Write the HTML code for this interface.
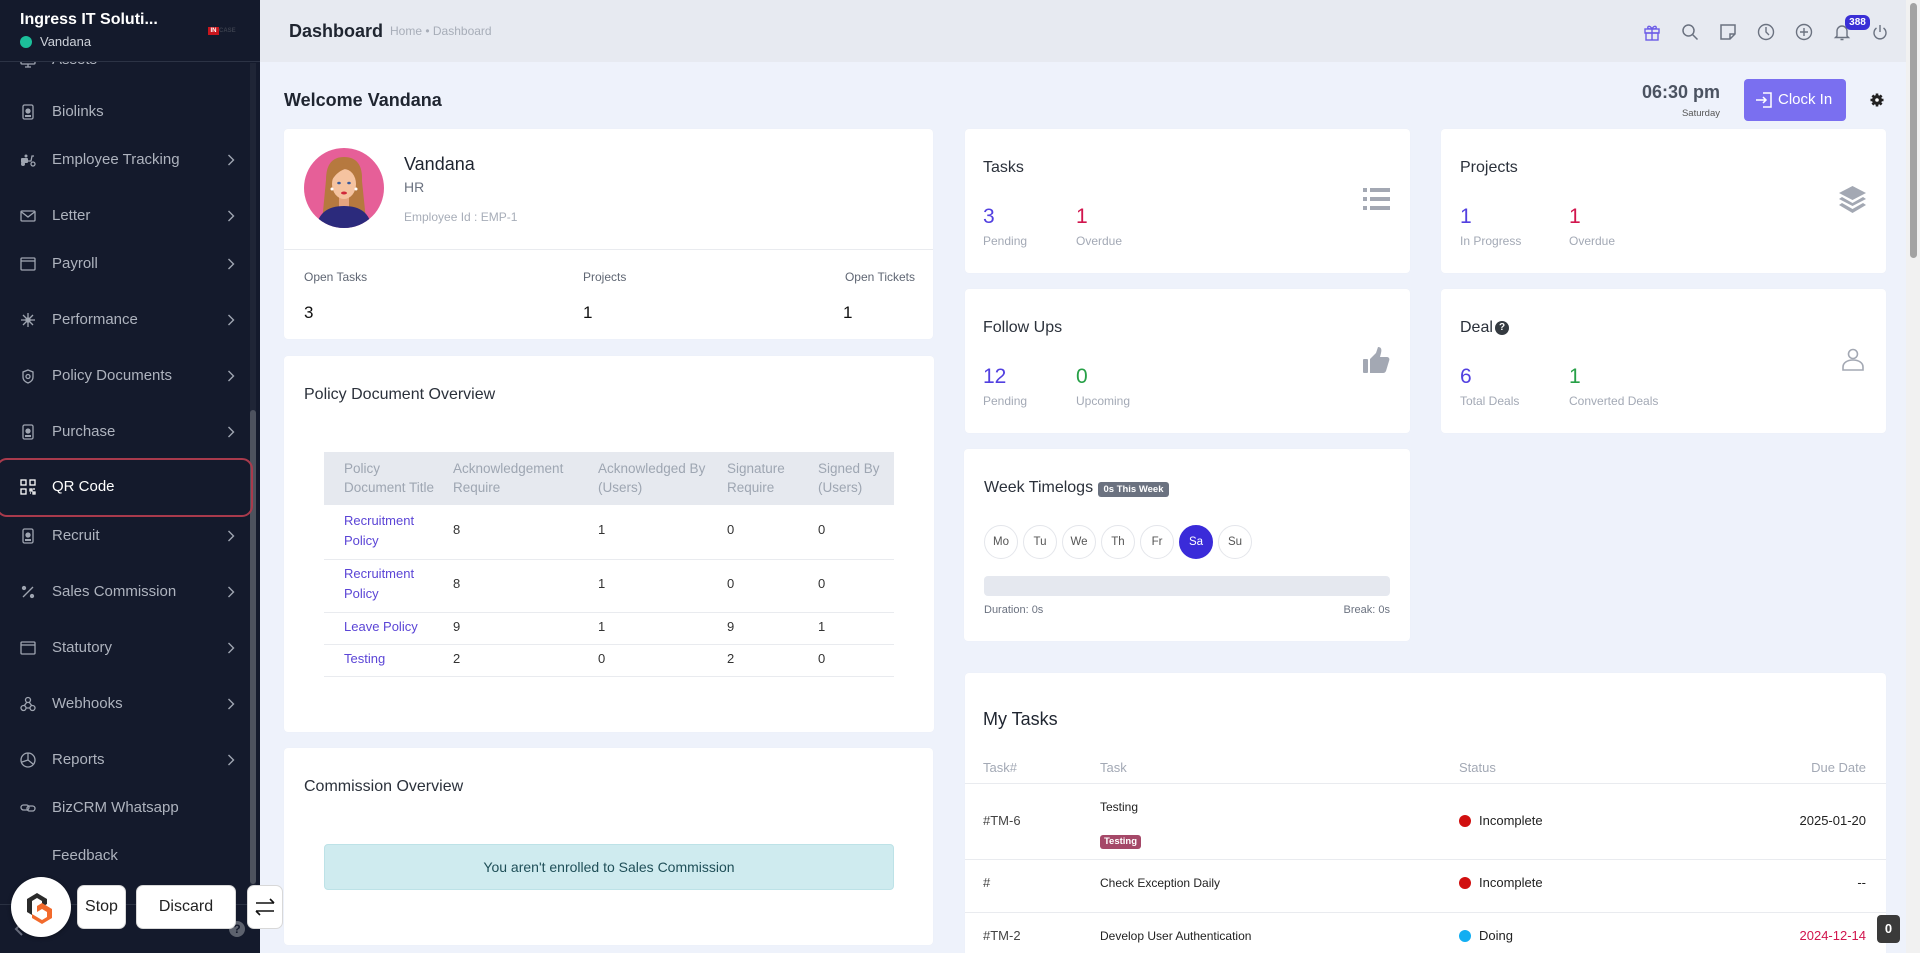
<!DOCTYPE html>
<html><head><meta charset="utf-8">
<style>
*{margin:0;padding:0;box-sizing:border-box}
html,body{width:1920px;height:953px;overflow:hidden}
body{position:relative;background:#eef2fb;font-family:"Liberation Sans",Arial,sans-serif;color:#28303b}
.a{position:absolute}
.t{position:absolute;white-space:nowrap;line-height:20px}
.card{position:absolute;background:#fff;border-radius:4px;box-shadow:0 0 1px rgba(0,0,0,.04)}
.si{position:absolute;left:52px;font-size:15px;color:#aeb3be;line-height:20px;white-space:nowrap}
.ic{position:absolute;left:20px;width:16px;height:16px}
.ch{position:absolute;left:227px;width:8px;height:12px}
.ti{font-size:16px;color:#2b313b}
.num{font-size:21px;line-height:24px}
.lb{font-size:12px;color:#a3a9b5}
.th{font-size:13.5px;color:#9ea6b2}
.td{font-size:13px;color:#333}
.lk{font-size:13px;color:#5b45d6}
.day{position:absolute;top:525px;width:34px;height:34px;border:1px solid #e4e6eb;border-radius:50%;font-size:11.5px;color:#555;text-align:center;line-height:32px}
.btn{position:absolute;top:885px;height:44px;background:#fff;border:1px solid #d8d8d8;border-radius:7px;font-size:16px;color:#222;text-align:center;line-height:42px}
.hl{position:absolute;height:1px;background:#e9ebef}
</style></head><body>

<!-- SIDEBAR -->
<div class="a" style="left:0;top:0;width:260px;height:953px;background:#141a2c"></div>
<!-- sidebar scrollbar -->
<div class="a" style="left:250px;top:63px;width:6px;height:841px;background:#1f2536"></div>
<div class="a" style="left:250px;top:410px;width:6px;height:474px;background:#4d525e;border-radius:3px"></div>

<!-- sidebar items -->
<svg class="ic" style="top:53px" viewBox="0 0 16 16" fill="none" stroke="#9fa5b1" stroke-width="1.3"><rect x="1" y="2" width="14" height="9" rx="1"/><path d="M5 14h6M8 11v3"/></svg>
<div class="si" style="top:50px">Assets</div>

<svg class="ic" style="top:104px" viewBox="0 0 16 16" fill="none" stroke="#9fa5b1" stroke-width="1.3"><rect x="3" y="1" width="10" height="14" rx="1.5"/><circle cx="8" cy="7" r="2" fill="#9fa5b1"/><path d="M5 12h6" stroke-width="2"/></svg>
<div class="si" style="top:102px">Biolinks</div>

<svg class="ic" style="top:152px" viewBox="0 0 16 16" fill="#9fa5b1"><rect x="1" y="6" width="7" height="5" rx="1"/><circle cx="3" cy="12" r="2"/><circle cx="13" cy="12" r="2" fill="none" stroke="#9fa5b1" stroke-width="1.3"/><path d="M8 9h3l1-5h2" fill="none" stroke="#9fa5b1" stroke-width="1.3"/><circle cx="6" cy="4" r="1.5"/></svg>
<div class="si" style="top:150px">Employee Tracking</div>
<svg class="ch" style="top:154px" viewBox="0 0 8 12" fill="none" stroke="#9fa5b1" stroke-width="1.4"><path d="M1.5 1l5 5-5 5"/></svg>

<svg class="ic" style="top:208px" viewBox="0 0 16 16" fill="none" stroke="#9fa5b1" stroke-width="1.3"><rect x="1" y="3" width="14" height="10" rx="1"/><path d="M1.5 4l6.5 5 6.5-5"/></svg>
<div class="si" style="top:206px">Letter</div>
<svg class="ch" style="top:210px" viewBox="0 0 8 12" fill="none" stroke="#9fa5b1" stroke-width="1.4"><path d="M1.5 1l5 5-5 5"/></svg>

<svg class="ic" style="top:256px" viewBox="0 0 16 16" fill="none" stroke="#9fa5b1" stroke-width="1.3"><rect x="1" y="2" width="14" height="12" rx="1"/><path d="M1 5h14"/></svg>
<div class="si" style="top:254px">Payroll</div>
<svg class="ch" style="top:258px" viewBox="0 0 8 12" fill="none" stroke="#9fa5b1" stroke-width="1.4"><path d="M1.5 1l5 5-5 5"/></svg>

<svg class="ic" style="top:312px" viewBox="0 0 16 16" fill="none" stroke="#9fa5b1" stroke-width="1.3"><path d="M8 1v14M1 8h14M3 3l10 10M13 3L3 13"/><circle cx="8" cy="8" r="2" fill="#9fa5b1"/></svg>
<div class="si" style="top:310px">Performance</div>
<svg class="ch" style="top:314px" viewBox="0 0 8 12" fill="none" stroke="#9fa5b1" stroke-width="1.4"><path d="M1.5 1l5 5-5 5"/></svg>

<svg class="ic" style="top:368px" viewBox="0 0 16 16" fill="none" stroke="#9fa5b1" stroke-width="1.3"><path d="M8 2l5 2v5c0 3-2.5 5-5 6-2.5-1-5-3-5-6V4z"/><circle cx="8" cy="8.5" r="2"/></svg>
<div class="si" style="top:366px">Policy Documents</div>
<svg class="ch" style="top:370px" viewBox="0 0 8 12" fill="none" stroke="#9fa5b1" stroke-width="1.4"><path d="M1.5 1l5 5-5 5"/></svg>

<svg class="ic" style="top:424px" viewBox="0 0 16 16" fill="none" stroke="#9fa5b1" stroke-width="1.3"><rect x="3" y="1" width="10" height="14" rx="1.5"/><circle cx="8" cy="7" r="2" fill="#9fa5b1"/><path d="M5 12h6" stroke-width="2"/></svg>
<div class="si" style="top:422px">Purchase</div>
<svg class="ch" style="top:426px" viewBox="0 0 8 12" fill="none" stroke="#9fa5b1" stroke-width="1.4"><path d="M1.5 1l5 5-5 5"/></svg>

<!-- QR highlighted -->
<div class="a" style="left:-4px;top:458px;width:257px;height:59px;border:2px solid #a93a4c;border-radius:11px"></div>
<svg class="ic" style="top:479px" viewBox="0 0 16 16" fill="none" stroke="#ffffff" stroke-width="1.3"><rect x="1" y="1" width="5" height="5"/><rect x="10" y="1" width="5" height="5"/><rect x="1" y="10" width="5" height="5"/><path d="M10 10h2v2h-2zM13 13h2v2h-2zM13 10h2M10 14h1" /></svg>
<div class="si" style="top:477px;color:#ffffff">QR Code</div>

<svg class="ic" style="top:528px" viewBox="0 0 16 16" fill="none" stroke="#9fa5b1" stroke-width="1.3"><rect x="3" y="1" width="10" height="14" rx="1.5"/><circle cx="8" cy="7" r="2" fill="#9fa5b1"/><path d="M5 12h6" stroke-width="2"/></svg>
<div class="si" style="top:526px">Recruit</div>
<svg class="ch" style="top:530px" viewBox="0 0 8 12" fill="none" stroke="#9fa5b1" stroke-width="1.4"><path d="M1.5 1l5 5-5 5"/></svg>

<svg class="ic" style="top:584px" viewBox="0 0 16 16" fill="none" stroke="#9fa5b1" stroke-width="1.3"><path d="M13 3L3 13"/><circle cx="4" cy="4" r="1.5" fill="#9fa5b1"/><circle cx="12" cy="12" r="1.5" fill="#9fa5b1"/></svg>
<div class="si" style="top:582px">Sales Commission</div>
<svg class="ch" style="top:586px" viewBox="0 0 8 12" fill="none" stroke="#9fa5b1" stroke-width="1.4"><path d="M1.5 1l5 5-5 5"/></svg>

<svg class="ic" style="top:640px" viewBox="0 0 16 16" fill="none" stroke="#9fa5b1" stroke-width="1.3"><rect x="1" y="2" width="14" height="12" rx="1"/><path d="M1 5h14"/></svg>
<div class="si" style="top:638px">Statutory</div>
<svg class="ch" style="top:642px" viewBox="0 0 8 12" fill="none" stroke="#9fa5b1" stroke-width="1.4"><path d="M1.5 1l5 5-5 5"/></svg>

<svg class="ic" style="top:696px" viewBox="0 0 16 16" fill="none" stroke="#9fa5b1" stroke-width="1.3"><circle cx="8" cy="4" r="2.5"/><circle cx="3.5" cy="12" r="2.5"/><circle cx="12.5" cy="12" r="2.5"/><path d="M7 6l-3 4M6 12h4M9 6l3 4"/></svg>
<div class="si" style="top:694px">Webhooks</div>
<svg class="ch" style="top:698px" viewBox="0 0 8 12" fill="none" stroke="#9fa5b1" stroke-width="1.4"><path d="M1.5 1l5 5-5 5"/></svg>

<svg class="ic" style="top:752px" viewBox="0 0 16 16" fill="none" stroke="#9fa5b1" stroke-width="1.3"><circle cx="8" cy="8" r="7"/><path d="M8 1v7l5 4M8 8l-6 2"/></svg>
<div class="si" style="top:750px">Reports</div>
<svg class="ch" style="top:754px" viewBox="0 0 8 12" fill="none" stroke="#9fa5b1" stroke-width="1.4"><path d="M1.5 1l5 5-5 5"/></svg>

<svg class="ic" style="top:800px" viewBox="0 0 16 16" fill="none" stroke="#9fa5b1" stroke-width="1.3"><rect x="1" y="5" width="8" height="5" rx="2.5"/><rect x="7" y="6" width="8" height="5" rx="2.5"/></svg>
<div class="si" style="top:798px">BizCRM Whatsapp</div>

<div class="si" style="top:846px">Feedback</div>

<!-- sidebar footer -->
<div class="a" style="left:0;top:904px;width:250px;height:1px;background:#2a3142"></div>
<svg class="a" style="left:14px;top:922px" width="10" height="14" viewBox="0 0 10 14" fill="none" stroke="#6b7080" stroke-width="2"><path d="M8 1L2 7l6 6"/></svg>
<div class="a" style="left:229px;top:921px;width:16px;height:16px;border-radius:50%;background:#5d626e;color:#141a2c;font-size:12px;font-weight:bold;text-align:center;line-height:16px">?</div>

<!-- sidebar header -->
<div class="a" style="left:0;top:0;width:260px;height:62px;background:#141a2c;border-bottom:1px solid #2c3345;z-index:2">
  <div class="t" style="left:20px;top:10px;font-size:16px;font-weight:bold;color:#fff">Ingress IT Soluti...</div>
  <div class="a" style="left:20px;top:36px;width:12px;height:12px;border-radius:50%;background:#1cbf9a"></div>
  <div class="t" style="left:40px;top:32px;font-size:13px;color:#cdd1d9">Vandana</div>
  <div class="a" style="left:208px;top:27px;width:11px;height:8px;background:#c8161d;color:#fff;font-size:6px;font-weight:bold;line-height:8px;text-align:center">IN</div>
  <div class="a" style="left:219px;top:27px;font-size:6px;color:#3a3f4c;line-height:8px;font-weight:bold">CASE</div>
</div>

<!-- floating widget -->
<div class="a" style="left:11px;top:877px;width:60px;height:60px;border-radius:50%;background:#fff;box-shadow:0 1px 4px rgba(0,0,0,.35)"></div>
<svg class="a" style="left:24px;top:890px" width="34" height="34" viewBox="0 0 34 34">
  <path d="M3 9L13 3l10 6v5l-5 3V11l-5-3-5 3v14l-5-3z" fill="#2b2b2b"/>
  <path d="M13 16l5-3 10 6v9l-10 6-10-6v-4l5 3 5 3 5-3v-5l-5-3-5 3z" fill="#f26a2c"/>
</svg>
<div class="btn" style="left:77px;width:49px">Stop</div>
<div class="btn" style="left:136px;width:100px">Discard</div>
<div class="btn" style="left:247px;width:36px">
  <svg style="margin-top:11px" width="22" height="20" viewBox="0 0 22 20" fill="none" stroke="#111" stroke-width="1.6"><path d="M2 6h18M16 2l4 4M20 14H2M6 18l-4-4"/></svg>
</div>

<!-- MAIN HEADER -->
<div class="a" style="left:260px;top:0;width:1646px;height:62px;background:#e7eaf1"></div>
<div class="t" style="left:289px;top:21px;font-size:18px;font-weight:bold;color:#1f2530">Dashboard</div>
<div class="t" style="left:390px;top:21px;font-size:12px;color:#a7adb8">Home • Dashboard</div>

<svg class="a" style="left:1643px;top:23px" width="18" height="18" viewBox="0 0 18 18" fill="none" stroke="#6c5ce7" stroke-width="1.4"><rect x="2" y="6" width="14" height="4"/><rect x="3" y="10" width="12" height="7"/><path d="M9 6v11M9 6C7 2 4 3 5 5.5 6 6 9 6 9 6M9 6c2-4 5-3 4-.5C12 6 9 6 9 6"/></svg>
<svg class="a" style="left:1681px;top:23px" width="18" height="18" viewBox="0 0 18 18" fill="none" stroke="#6b7280" stroke-width="1.5"><circle cx="7.5" cy="7.5" r="5.5"/><path d="M11.5 11.5l5 5"/></svg>
<svg class="a" style="left:1719px;top:23px" width="18" height="18" viewBox="0 0 18 18" fill="none" stroke="#6b7280" stroke-width="1.5"><path d="M2 2h14v9l-5 5H2z M16 11h-5v5"/></svg>
<svg class="a" style="left:1757px;top:23px" width="18" height="18" viewBox="0 0 18 18" fill="none" stroke="#6b7280" stroke-width="1.4"><circle cx="9" cy="9" r="7.5"/><path d="M9 4v5l3 3"/></svg>
<svg class="a" style="left:1795px;top:23px" width="18" height="18" viewBox="0 0 18 18" fill="none" stroke="#6b7280" stroke-width="1.4"><circle cx="9" cy="9" r="7.5"/><path d="M9 5v8M5 9h8"/></svg>
<svg class="a" style="left:1833px;top:23px" width="18" height="18" viewBox="0 0 18 18" fill="none" stroke="#6b7280" stroke-width="1.4"><path d="M4 13V8a5 5 0 0110 0v5l1.5 1.5h-13zM7.5 16.5h3"/></svg>
<div class="a" style="left:1845px;top:15px;width:25px;height:15px;border-radius:6px;background:#3a2fd6;color:#fff;font-size:10px;font-weight:bold;text-align:center;line-height:15px">388</div>
<svg class="a" style="left:1872px;top:24px" width="16" height="17" viewBox="0 0 16 17" fill="none" stroke="#6b7280" stroke-width="1.4"><path d="M8 1v7M4.5 4a6 6 0 107 0"/></svg>

<!-- page scrollbar -->
<div class="a" style="left:1906px;top:0;width:14px;height:953px;background:#f1f1f1"></div>
<div class="a" style="left:1910px;top:3px;width:7px;height:255px;background:#a3a3a3;border-radius:4px"></div>

<!-- welcome row -->
<div class="t" style="left:284px;top:90px;font-size:18px;font-weight:bold;color:#1f2530">Welcome Vandana</div>
<div class="t" style="left:1620px;top:82px;width:100px;text-align:right;font-size:18px;font-weight:bold;color:#4b5361">06:30 pm</div>
<div class="t" style="left:1620px;top:104px;width:100px;text-align:right;font-size:9.5px;color:#555">Saturday</div>
<div class="a" style="left:1744px;top:79px;width:102px;height:42px;background:#7a6ff0;border-radius:4px"></div>
<svg class="a" style="left:1755px;top:91px" width="18" height="18" viewBox="0 0 18 18" fill="none" stroke="#fff" stroke-width="1.5"><path d="M8 2h8v14H8M1 9h10M8 6l3 3-3 3"/></svg>
<div class="t" style="left:1778px;top:90px;font-size:15px;color:#fff">Clock In</div>
<svg class="a" style="left:1870px;top:93px" width="14" height="14" viewBox="0 0 14 14"><circle cx="7" cy="7" r="5" fill="#222"/><g stroke="#222" stroke-width="2.6"><path d="M7 0.5v13M0.5 7h13M2.4 2.4l9.2 9.2M11.6 2.4l-9.2 9.2"/></g><circle cx="7" cy="7" r="1.8" fill="#fff"/></svg>

<!-- PROFILE CARD -->
<div class="card" style="left:284px;top:129px;width:649px;height:210px"></div>
<svg class="a" style="left:304px;top:148px" width="80" height="80" viewBox="0 0 80 80">
  <defs><clipPath id="cc"><circle cx="40" cy="40" r="40"/></clipPath></defs>
  <g clip-path="url(#cc)">
    <rect width="80" height="80" fill="#e65f98"/>
    <path d="M22 32 Q22 9 40 9 Q59 9 58 33 L62 72 L18 74 Z" fill="#b6793f"/>
    <rect x="35" y="48" width="10" height="12" fill="#e6a47f"/>
    <ellipse cx="40" cy="36" rx="12" ry="15" fill="#f5c3a0"/>
    <path d="M27 34 Q28 14 43 15 Q55 17 54 36 Q50 22 41 21 Q32 24 27 34Z" fill="#b6793f"/>
    <ellipse cx="35" cy="35" rx="1.8" ry="1.3" fill="#3b5a9a"/>
    <ellipse cx="45" cy="35" rx="1.8" ry="1.3" fill="#3b5a9a"/>
    <ellipse cx="40" cy="45" rx="3" ry="1.5" fill="#d0283a"/>
    <circle cx="28" cy="41" r="1.5" fill="#fff"/><circle cx="52" cy="41" r="1.5" fill="#fff"/>
    <path d="M12 82 Q14 58 40 58 Q66 58 68 82Z" fill="#2b2a7c"/>
  </g>
</svg>
<div class="t" style="left:404px;top:154px;font-size:18px;color:#1f2530">Vandana</div>
<div class="t" style="left:404px;top:177px;font-size:14px;color:#6b7280">HR</div>
<div class="t" style="left:404px;top:207px;font-size:12px;color:#a7adb8">Employee Id : EMP-1</div>
<div class="hl" style="left:284px;top:249px;width:649px"></div>
<div class="t" style="left:304px;top:267px;font-size:12px;color:#5f6673">Open Tasks</div>
<div class="t" style="left:583px;top:267px;font-size:12px;color:#5f6673">Projects</div>
<div class="t" style="left:815px;top:267px;width:100px;text-align:right;font-size:12px;color:#5f6673">Open Tickets</div>
<div class="t" style="left:304px;top:303px;font-size:17px;color:#111">3</div>
<div class="t" style="left:583px;top:303px;font-size:17px;color:#111">1</div>
<div class="t" style="left:843px;top:303px;font-size:17px;color:#111">1</div>

<!-- POLICY CARD -->
<div class="card" style="left:284px;top:356px;width:650px;height:376px"></div>
<div class="t ti" style="left:304px;top:385px">Policy Document Overview</div>
<div class="a" style="left:324px;top:452px;width:570px;height:53px;background:#e6e9ef"></div>
<div class="t th" style="left:344px;top:459px">Policy</div>
<div class="t th" style="left:344px;top:478px">Document Title</div>
<div class="t th" style="left:453px;top:459px">Acknowledgement</div>
<div class="t th" style="left:453px;top:478px">Require</div>
<div class="t th" style="left:598px;top:459px">Acknowledged By</div>
<div class="t th" style="left:598px;top:478px">(Users)</div>
<div class="t th" style="left:727px;top:459px">Signature</div>
<div class="t th" style="left:727px;top:478px">Require</div>
<div class="t th" style="left:818px;top:459px">Signed By</div>
<div class="t th" style="left:818px;top:478px">(Users)</div>

<div class="t lk" style="left:344px;top:511px">Recruitment</div>
<div class="t lk" style="left:344px;top:531px">Policy</div>
<div class="t td" style="left:453px;top:520px">8</div><div class="t td" style="left:598px;top:520px">1</div><div class="t td" style="left:727px;top:520px">0</div><div class="t td" style="left:818px;top:520px">0</div>
<div class="hl" style="left:324px;top:559px;width:570px"></div>

<div class="t lk" style="left:344px;top:564px">Recruitment</div>
<div class="t lk" style="left:344px;top:584px">Policy</div>
<div class="t td" style="left:453px;top:574px">8</div><div class="t td" style="left:598px;top:574px">1</div><div class="t td" style="left:727px;top:574px">0</div><div class="t td" style="left:818px;top:574px">0</div>
<div class="hl" style="left:324px;top:612px;width:570px"></div>

<div class="t lk" style="left:344px;top:617px">Leave Policy</div>
<div class="t td" style="left:453px;top:617px">9</div><div class="t td" style="left:598px;top:617px">1</div><div class="t td" style="left:727px;top:617px">9</div><div class="t td" style="left:818px;top:617px">1</div>
<div class="hl" style="left:324px;top:644px;width:570px"></div>

<div class="t lk" style="left:344px;top:649px">Testing</div>
<div class="t td" style="left:453px;top:649px">2</div><div class="t td" style="left:598px;top:649px">0</div><div class="t td" style="left:727px;top:649px">2</div><div class="t td" style="left:818px;top:649px">0</div>
<div class="hl" style="left:324px;top:676px;width:570px"></div>

<!-- COMMISSION CARD -->
<div class="card" style="left:284px;top:748px;width:649px;height:197px"></div>
<div class="t ti" style="left:304px;top:777px">Commission Overview</div>
<div class="a" style="left:324px;top:844px;width:570px;height:46px;background:#cfebef;border:1px solid #bde2e7;border-radius:4px;text-align:center;font-size:14px;color:#1f4f58;line-height:44px">You aren't enrolled to Sales Commission</div>

<!-- TASKS CARD -->
<div class="card" style="left:965px;top:129px;width:445px;height:144px"></div>
<div class="t ti" style="left:983px;top:158px">Tasks</div>
<div class="t num" style="left:983px;top:205px;color:#5240e0">3</div>
<div class="t num" style="left:1076px;top:205px;color:#d1154d">1</div>
<div class="t lb" style="left:983px;top:231px">Pending</div>
<div class="t lb" style="left:1076px;top:231px">Overdue</div>
<svg class="a" style="left:1363px;top:188px" width="27" height="22" viewBox="0 0 27 22" fill="#a3a8b3"><rect x="0" y="0" width="4" height="4"/><rect x="0" y="9" width="4" height="4"/><rect x="0" y="18" width="4" height="4"/><rect x="7" y="0" width="20" height="4"/><rect x="7" y="9" width="20" height="4"/><rect x="7" y="18" width="20" height="4"/></svg>

<!-- PROJECTS CARD -->
<div class="card" style="left:1441px;top:129px;width:445px;height:144px"></div>
<div class="t ti" style="left:1460px;top:158px">Projects</div>
<div class="t num" style="left:1460px;top:205px;color:#5240e0">1</div>
<div class="t num" style="left:1569px;top:205px;color:#d1154d">1</div>
<div class="t lb" style="left:1460px;top:231px">In Progress</div>
<div class="t lb" style="left:1569px;top:231px">Overdue</div>
<svg class="a" style="left:1839px;top:186px" width="27" height="27" viewBox="0 0 27 27" fill="#a3a8b3"><path d="M13.5 0L27 7 13.5 14 0 7z"/><path d="M3 11l10.5 6 10.5-6 3 2-13.5 7L0 13z"/><path d="M3 17l10.5 6 10.5-6 3 2-13.5 8L0 19z"/></svg>

<!-- FOLLOW UPS CARD -->
<div class="card" style="left:965px;top:289px;width:445px;height:144px"></div>
<div class="t ti" style="left:983px;top:318px">Follow Ups</div>
<div class="t num" style="left:983px;top:365px;color:#5240e0">12</div>
<div class="t num" style="left:1076px;top:365px;color:#27a047">0</div>
<div class="t lb" style="left:983px;top:391px">Pending</div>
<div class="t lb" style="left:1076px;top:391px">Upcoming</div>
<svg class="a" style="left:1363px;top:347px" width="27" height="27" viewBox="0 0 27 27" fill="#a3a8b3"><rect x="0" y="12" width="5" height="14" rx="1"/><path d="M7 12l6-6 2-6c3 0 4 2 3 6l-1 4h7c2 0 3 2 2 4l-3 10c-1 2-2 2-4 2H7z"/></svg>

<!-- DEAL CARD -->
<div class="card" style="left:1441px;top:289px;width:445px;height:144px"></div>
<div class="t ti" style="left:1460px;top:318px">Deal</div>
<div class="a" style="left:1495px;top:321px;width:14px;height:14px;border-radius:50%;background:#343a40;color:#fff;font-size:10px;font-weight:bold;text-align:center;line-height:14px">?</div>
<div class="t num" style="left:1460px;top:365px;color:#5240e0">6</div>
<div class="t num" style="left:1569px;top:365px;color:#27a047">1</div>
<div class="t lb" style="left:1460px;top:391px">Total Deals</div>
<div class="t lb" style="left:1569px;top:391px">Converted Deals</div>
<svg class="a" style="left:1842px;top:348px" width="22" height="23" viewBox="0 0 22 23" fill="none" stroke="#a3a8b3" stroke-width="1.6"><circle cx="11" cy="6" r="4.5"/><path d="M1 22v-3c0-4 4-7 10-7s10 3 10 7v3z"/></svg>

<!-- WEEK TIMELOGS -->
<div class="card" style="left:964px;top:449px;width:446px;height:192px"></div>
<div class="t ti" style="left:984px;top:478px">Week Timelogs</div>
<div class="a" style="left:1098px;top:482px;width:71px;height:15px;background:#6b7280;border-radius:3px;color:#fff;font-size:9.5px;font-weight:bold;text-align:center;line-height:15px">0s This Week</div>
<div class="day" style="left:984px">Mo</div>
<div class="day" style="left:1023px">Tu</div>
<div class="day" style="left:1062px">We</div>
<div class="day" style="left:1101px">Th</div>
<div class="day" style="left:1140px">Fr</div>
<div class="day" style="left:1179px;background:#3a2bd9;border-color:#3a2bd9;color:#fff">Sa</div>
<div class="day" style="left:1218px">Su</div>
<div class="a" style="left:984px;top:576px;width:406px;height:20px;background:#e5e8ef;border-radius:4px"></div>
<div class="t" style="left:984px;top:600px;font-size:11px;color:#6b7280">Duration: 0s</div>
<div class="t" style="left:1290px;top:600px;width:100px;text-align:right;font-size:11px;color:#6b7280">Break: 0s</div>

<!-- MY TASKS -->
<div class="card" style="left:965px;top:673px;width:921px;height:290px"></div>
<div class="t" style="left:983px;top:708px;font-size:18px;color:#1f2530;line-height:22px">My Tasks</div>
<div class="t" style="left:983px;top:758px;font-size:13px;color:#a3a9b5">Task#</div>
<div class="t" style="left:1100px;top:758px;font-size:13px;color:#a3a9b5">Task</div>
<div class="t" style="left:1459px;top:758px;font-size:13px;color:#a3a9b5">Status</div>
<div class="t" style="left:1766px;top:758px;width:100px;text-align:right;font-size:13px;color:#a3a9b5">Due Date</div>
<div class="hl" style="left:965px;top:783px;width:921px"></div>

<div class="t" style="left:983px;top:811px;font-size:13px;color:#444">#TM-6</div>
<div class="t" style="left:1100px;top:797px;font-size:12px;color:#222">Testing</div>
<div class="a" style="left:1100px;top:835px;width:41px;height:14px;background:#a54868;border-radius:3px;color:#fff;font-size:9.5px;font-weight:bold;text-align:center;line-height:14px">Testing</div>
<div class="a" style="left:1459px;top:815px;width:12px;height:12px;border-radius:50%;background:#d10f0f"></div>
<div class="t" style="left:1479px;top:811px;font-size:13px;color:#222">Incomplete</div>
<div class="t" style="left:1766px;top:811px;width:100px;text-align:right;font-size:13px;color:#222">2025-01-20</div>
<div class="hl" style="left:965px;top:859px;width:921px"></div>

<div class="t" style="left:983px;top:873px;font-size:13px;color:#444">#</div>
<div class="t" style="left:1100px;top:873px;font-size:12px;color:#222">Check Exception Daily</div>
<div class="a" style="left:1459px;top:877px;width:12px;height:12px;border-radius:50%;background:#d10f0f"></div>
<div class="t" style="left:1479px;top:873px;font-size:13px;color:#222">Incomplete</div>
<div class="t" style="left:1766px;top:873px;width:100px;text-align:right;font-size:13px;color:#222">--</div>
<div class="hl" style="left:965px;top:912px;width:921px"></div>

<div class="t" style="left:983px;top:926px;font-size:13px;color:#444">#TM-2</div>
<div class="t" style="left:1100px;top:926px;font-size:12px;color:#222">Develop User Authentication</div>
<div class="a" style="left:1459px;top:930px;width:12px;height:12px;border-radius:50%;background:#12aef2"></div>
<div class="t" style="left:1479px;top:926px;font-size:13px;color:#222">Doing</div>
<div class="t" style="left:1766px;top:926px;width:100px;text-align:right;font-size:13px;color:#d1154d">2024-12-14</div>

<div class="a" style="left:1877px;top:915px;width:23px;height:28px;background:#3a3a3a;border-radius:4px;color:#fff;font-size:13px;font-weight:bold;text-align:center;line-height:28px">0</div>

</body></html>
